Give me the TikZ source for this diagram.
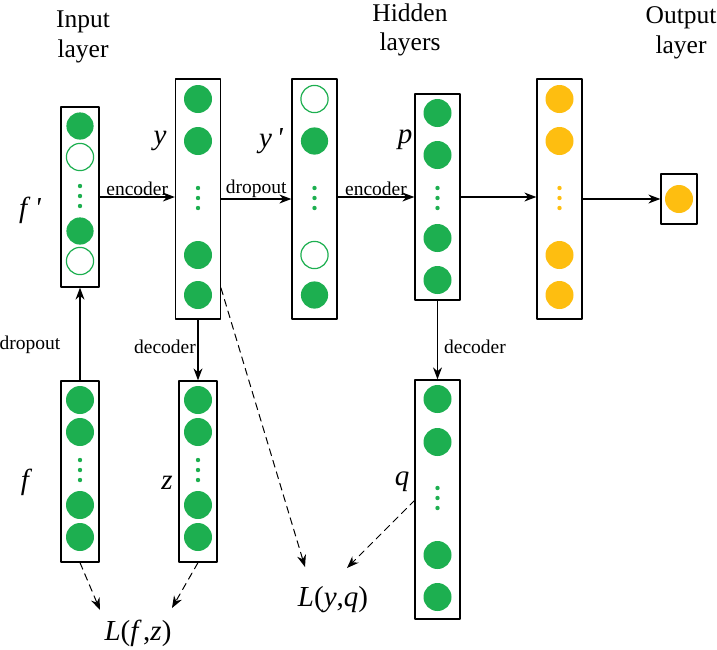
\documentclass[tikz,border=0pt]{standalone}
\usepackage{fontspec}
\setmainfont{Liberation Serif}
\newfontfamily\varfont{Liberation Serif}[Ligatures=TeXOff]
\usetikzlibrary{arrows.meta}
\definecolor{nngreen}{RGB}{29,175,80}
\definecolor{nnorange}{RGB}{254,190,16}

\begin{document}
\begin{tikzpicture}[
	x=1pt,y=-1pt,
	>={Stealth[length=12pt,width=9pt]},
	line width=1.2pt,
	line cap=round,
	line join=round,
	layer/.style={draw,line width=1.3pt,minimum width=45pt,inner sep=0pt},
	gfull/.style={fill=nngreen},
	gopen/.style={draw=nngreen,fill=white,line width=1.2pt},
	ofull/.style={fill=nnorange},
	lbl/.style={font=\fontsize{19.5}{22}\selectfont,inner sep=1pt},
	title/.style={font=\fontsize{25.5}{29.5}\selectfont,align=center},
	var/.style={font=\varfont\itshape\fontsize{29}{32}\selectfont}
	]
	\useasboundingbox (0,0) rectangle (717,649);
	% layer boxes
	\node[layer,minimum width=38pt,minimum height=180pt] (fp) at (80,197) {};
	\node[layer,minimum height=240pt] (y) at (198,199) {};
	\node[layer,minimum height=240pt] (yp) at (314.5,199) {};
	\node[layer,minimum height=206pt] (p) at (437.5,197) {};
	\node[layer,minimum height=240pt] (o) at (559.5,199) {};
	\node[layer,minimum width=36pt,minimum height=50pt] (out) at (679,199) {};
	\node[layer,minimum width=38pt,minimum height=181pt] (f) at (80,471.5) {};
	\node[layer,minimum width=38pt,minimum height=181pt] (z) at (198,471.5) {};
	\node[layer,minimum height=239pt] (q) at (437.5,499.5) {};
	% neurons
	\foreach \yy/\st in {126/gfull,157/gopen,231/gfull,261/gopen}
		\path[\st] (80,\yy) circle (13.6pt);
	\foreach \yy in {99,141,255,295}
		\fill[nngreen] (198,\yy) circle (14pt);
	\foreach \yy/\st in {99/gopen,141/gfull,255/gopen,295/gfull}
		\path[\st] (314.5,\yy) circle (13.6pt);
	\foreach \yy in {113,155,238,280}
		\fill[nngreen] (437.5,\yy) circle (14pt);
	\foreach \yy in {99,141,255,295}
		\fill[nnorange] (559.5,\yy) circle (14pt);
	\fill[nnorange] (out) circle (14pt);
	\foreach \xx in {80,198}
		\foreach \yy in {400,432,505,537}
			\fill[nngreen] (\xx,\yy) circle (14pt);
	\foreach \yy in {399,442,555,597}
		\fill[nngreen] (437.5,\yy) circle (14pt);
	% dots
	\foreach \d in {0,10,20} {
		\fill[nngreen] (80,186+\d) circle (2.2pt);
		\fill[nngreen] (198,188+\d) circle (2.2pt);
		\fill[nngreen] (314.5,188+\d) circle (2.2pt);
		\fill[nngreen] (437.5,188+\d) circle (2.2pt);
		\fill[nnorange] (559.5,188+\d) circle (2.2pt);
		\fill[nngreen] (80,460+\d) circle (2.2pt);
		\fill[nngreen] (198,460+\d) circle (2.2pt);
		\fill[nngreen] (437.5,488+\d) circle (2.2pt);
	}
	% titles
	\node[title] (tin) at (83,37) {Input\\layer};
	\node[title] (thid) at (410,30) {Hidden\\layers};
	\node[title] (tout) at (681,33) {Output\\layer};
	% variables
	\node[var] (vfp) at (30,210) {f \char"27};
	\node[var] (vy) at (160,141) {y};
	\node[var] (vyp) at (271,141) {y\,\char"27};
	\node[var] (vp) at (405,140) {p};
	\node[var] (vf) at (25,482) {f};
	\node[var] (vz) at (167,483) {z};
	\node[var] (vq) at (402,482) {q};
	\node[var] (lfz) at (138,633) {L{\upshape(}f\,{\upshape,}z{\upshape)}};
	\node[var] (lyq) at (333,600) {L{\upshape(}y{\upshape,}q{\upshape)}};
	% solid connectors
	\begin{scope}[->]
		\draw (fp.east) -- (fp.east -| y.west) node[lbl,midway,above] (enc1) {encoder};
		\draw (y) -- (yp) node[lbl,midway,above] (drop1) {dropout};
		\draw (yp.east |- p) -- (p.west) node[lbl,midway,above] (enc2) {encoder};
		\draw (p.east) -- (p.east -| o.west);
		\draw (o) -- (out);
		\draw (f) -- (fp);
		\draw (y) -- (z);
		\draw (p) -- (q);
	\end{scope}
	\node[lbl] (drop2) at (30,345) {dropout};
	\node[lbl] (dec1) at (165,347) {decoder};
	\node[lbl] (dec2) at (475,347) {decoder};
	% loss connectors
	\coordinate (ya) at (221,288);
	\coordinate (qa) at (415,500);
	\coordinate (lf1) at (100,610);
	\coordinate (lf2) at (172,608);
	\coordinate (ly1) at (305,567);
	\coordinate (ly2) at (347,568);
	\begin{scope}[->,line width=1pt,dash pattern=on 7pt off 5pt]
		\draw (f.south) -- (lf1);
		\draw (z.south) -- (lf2);
		\draw (ya) -- (ly1);
		\draw (qa) -- (ly2);
	\end{scope}
\end{tikzpicture}
\end{document}
